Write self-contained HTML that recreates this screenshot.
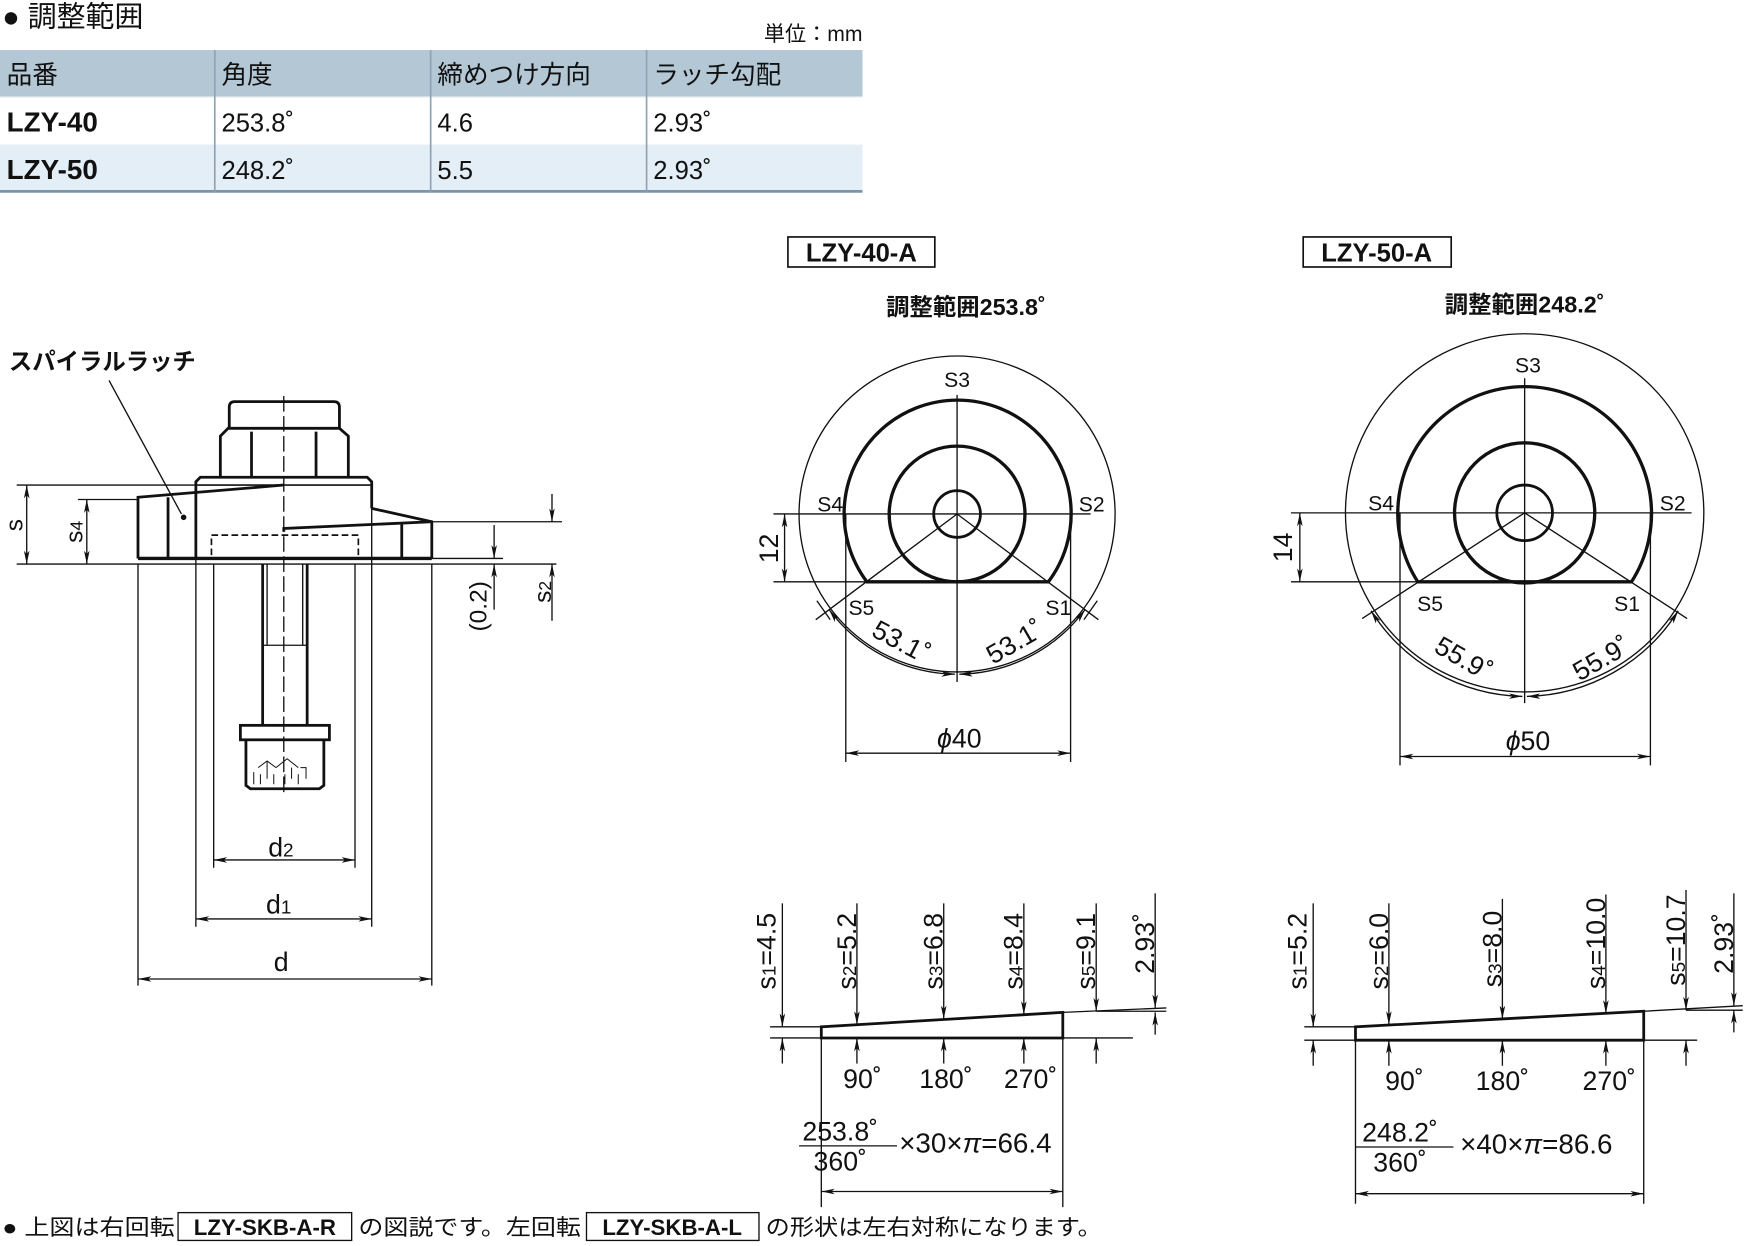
<!DOCTYPE html>
<html><head><meta charset="utf-8"><style>
html,body{margin:0;padding:0;background:#fff;}
svg{display:block;}
text{font-family:"Liberation Sans","Noto Sans CJK JP",sans-serif;fill:#111;}
</style></head><body>
<svg width="1745" height="1246" viewBox="0 0 1568 1120" preserveAspectRatio="none" xmlns="http://www.w3.org/2000/svg">
<defs>
<marker id="a" viewBox="0 0 12 6" refX="12" refY="3" markerWidth="12" markerHeight="6" orient="auto-start-reverse" markerUnits="userSpaceOnUse"><path d="M0,0.5 L12,3 L0,5.5 L3,3 z" fill="#111"/></marker>
</defs>

<!-- Table -->
<text x="2" y="24" font-size="26">● 調整範囲</text>
<text x="775" y="37" font-size="19" text-anchor="end">単位：mm</text>
<rect x="0" y="45" width="775" height="42" fill="#b3c7d5"/>
<rect x="0" y="130" width="775" height="42" fill="#e4eef6"/>
<line x1="0" y1="172" x2="775" y2="172" stroke="#7d93a6" stroke-width="2.5"/>
<line x1="0" y1="87" x2="775" y2="87" stroke="#dde5ec" stroke-width="1"/>
<g stroke="#8fa3b4" stroke-width="1.5">
<line x1="193" y1="45" x2="193" y2="172"/><line x1="387" y1="45" x2="387" y2="172"/><line x1="581" y1="45" x2="581" y2="172"/>
</g>
<g font-size="23">
<text x="6" y="75">品番</text><text x="199" y="75">角度</text><text x="393" y="75">締めつけ方向</text><text x="587" y="75">ラッチ勾配</text>
<text x="6" y="118" font-weight="bold" font-size="25">LZY-40</text><text x="199" y="118">253.8˚</text><text x="393" y="118">4.6</text><text x="587" y="118">2.93˚</text>
<text x="6" y="161" font-weight="bold" font-size="25">LZY-50</text><text x="199" y="161">248.2˚</text><text x="393" y="161">5.5</text><text x="587" y="161">2.93˚</text>
</g>

<!-- Left drawing -->
<g fill="none" stroke="#111">
<text x="8" y="332" font-size="21" font-weight="bold" stroke="none">スパイラルラッチ</text>
<line x1="98" y1="342" x2="163" y2="462" stroke-width="1.2"/>
<circle cx="165" cy="465" r="2" fill="#111"/>
<path d="M206,385 L206,366 Q206,361 211,361 L300,361 Q305,361 305,366 L305,385" stroke-width="2.5"/>
<path d="M198,429 L198,392 L205,385 L305,385 L313,392 L313,429" stroke-width="2.5"/>
<line x1="226" y1="388" x2="226" y2="429" stroke-width="2.5"/>
<line x1="284" y1="388" x2="284" y2="429" stroke-width="2.5"/>
<path d="M176,502 L176,433 L180,429 L330,429 L334,433 L334,457" stroke-width="2.5"/>
<line x1="176" y1="436" x2="334" y2="436" stroke-width="1.5"/>
<path d="M124,502 L124,447 L255,436" stroke-width="2.5"/>
<line x1="151" y1="447" x2="151" y2="502" stroke-width="2.5"/>
<path d="M334,457 L388,469 L388,502" stroke-width="2.5"/>
<path d="M255,478 L255,475 L388,469" stroke-width="2.5"/>
<line x1="361" y1="471" x2="361" y2="502" stroke-width="2.5"/>
<line x1="124" y1="502" x2="388" y2="502" stroke-width="3"/>
<line x1="388" y1="502" x2="452" y2="502" stroke-width="1.2"/>
<rect x="190" y="481" width="132" height="21" stroke-width="1.5" stroke-dasharray="6,3"/>
<path d="M236,507 L236,652 M276,507 L276,652" stroke-width="2.5"/>
<path d="M240,507 L240,580 M272,507 L272,580 M236,580 L276,580" stroke-width="1.2"/>
<rect x="216" y="652" width="80" height="13" stroke-width="2.5"/>
<path d="M221,665 L221,706 L225,709 L287,709 L291,706 L291,665" stroke-width="2.5"/>
<path d="M232,690 L240,684 L248,690 M240,684 L240,700 M248,690 L258,682 L268,690 M262,690 L262,700 M270,690 L275,690 L275,700 M228,694 L228,705 M234,696 L234,705 M246,696 L246,705 M256,696 L256,705 M268,696 L268,705" stroke-width="0.9"/>
<line x1="255" y1="356" x2="255" y2="716" stroke-width="1.2" stroke-dasharray="14,4"/>
<line x1="15" y1="507" x2="500" y2="507" stroke-width="1.2"/>
<line x1="15" y1="436" x2="176" y2="436" stroke-width="1.2"/>
<line x1="70" y1="449" x2="124" y2="449" stroke-width="1.2"/>
<line x1="388" y1="469" x2="505" y2="469" stroke-width="1.2"/>
<line x1="24" y1="436" x2="24" y2="507" stroke-width="1.2" marker-start="url(#a)" marker-end="url(#a)"/>
<line x1="78" y1="449" x2="78" y2="507" stroke-width="1.2" marker-start="url(#a)" marker-end="url(#a)"/>
<line x1="444" y1="472" x2="444" y2="502" stroke-width="1.2" marker-end="url(#a)"/>
<line x1="444" y1="548" x2="444" y2="507" stroke-width="1.2" marker-end="url(#a)"/>
<line x1="496" y1="444" x2="496" y2="469" stroke-width="1.2" marker-end="url(#a)"/>
<line x1="496" y1="558" x2="496" y2="507" stroke-width="1.2" marker-end="url(#a)"/>
<path d="M192,507 L192,780 M319,507 L319,780 M176,502 L176,833 M334,457 L334,833 M124,507 L124,886 M388,507 L388,886" stroke-width="1.2"/>
<line x1="192" y1="773" x2="319" y2="773" stroke-width="1.2" marker-start="url(#a)" marker-end="url(#a)"/>
<line x1="176" y1="826" x2="334" y2="826" stroke-width="1.2" marker-start="url(#a)" marker-end="url(#a)"/>
<line x1="124" y1="880" x2="388" y2="880" stroke-width="1.2" marker-start="url(#a)" marker-end="url(#a)"/>
</g>
<g font-size="24">
<text x="241" y="770">d<tspan font-size="17">2</tspan></text>
<text x="239" y="821">d<tspan font-size="17">1</tspan></text>
<text x="246" y="873">d</text>
<text transform="translate(20,472) rotate(-90)" text-anchor="middle" font-size="22">s</text>
<text transform="translate(74,478) rotate(-90)" text-anchor="middle" font-size="22">s<tspan font-size="16">4</tspan></text>
<text transform="translate(437,545) rotate(-90)" text-anchor="middle" font-size="22">(0.2)</text>
<text transform="translate(495,532) rotate(-90)" text-anchor="middle" font-size="22">s<tspan font-size="16">2</tspan></text>
</g>

<!-- LZY-40-A -->
<rect x="708" y="213" width="132" height="27" fill="none" stroke="#111" stroke-width="1.5"/>
<text x="774" y="235" font-size="23" font-weight="bold" text-anchor="middle">LZY-40-A</text>
<text x="868" y="283" font-size="21" font-weight="bold" text-anchor="middle">調整範囲253.8˚</text>
<g fill="none" stroke="#111">
<circle cx="860" cy="462" r="142" stroke-width="1.2"/>
<path d="M779,523 A102,102 0 1 1 942,523 Z" stroke-width="3"/>
<circle cx="860" cy="462" r="61" stroke-width="3"/>
<circle cx="860" cy="462" r="21" stroke-width="2.5"/>
<line x1="860" y1="355" x2="860" y2="613" stroke-width="1.2"/>
<line x1="695" y1="462" x2="980" y2="462" stroke-width="1.2"/>
<line x1="695" y1="523" x2="779" y2="523" stroke-width="1.2"/>
<line x1="705" y1="462" x2="705" y2="523" stroke-width="1.2" marker-start="url(#a)" marker-end="url(#a)"/>
<line x1="860" y1="462" x2="733" y2="557" stroke-width="1.2"/>
<line x1="860" y1="462" x2="987" y2="557" stroke-width="1.2"/>
<line x1="734" y1="540" x2="746" y2="557" stroke-width="1.2"/>
<line x1="986" y1="540" x2="974" y2="557" stroke-width="1.2"/>
<path d="M745,548 A144,144 0 0 0 858,606" stroke-width="1.2" marker-start="url(#a)" marker-end="url(#a)"/>
<path d="M975,548 A144,144 0 0 1 862,606" stroke-width="1.2" marker-start="url(#a)" marker-end="url(#a)"/>
<line x1="760" y1="462" x2="760" y2="685" stroke-width="1.2"/>
<line x1="962" y1="462" x2="962" y2="685" stroke-width="1.2"/>
<line x1="760" y1="677" x2="962" y2="677" stroke-width="1.2" marker-start="url(#a)" marker-end="url(#a)"/>
</g>
<g font-size="19">
<text x="860" y="348" text-anchor="middle">S3</text>
<text x="746" y="460" text-anchor="middle">S4</text>
<text x="981" y="460" text-anchor="middle">S2</text>
<text x="774" y="553" text-anchor="middle">S5</text>
<text x="951" y="553" text-anchor="middle">S1</text>
<text transform="translate(806,584) rotate(28)" text-anchor="middle" font-size="24">53.1˚</text>
<text transform="translate(916,584) rotate(-30)" text-anchor="middle" font-size="24">53.1˚</text>
<text transform="translate(699,493) rotate(-90)" text-anchor="middle" font-size="24">12</text>
<text x="862" y="672" text-anchor="middle" font-size="24"><tspan font-style="italic">ϕ</tspan>40</text>
</g>

<!-- LZY-50-A -->
<rect x="1171" y="213" width="133" height="27" fill="none" stroke="#111" stroke-width="1.5"/>
<text x="1237" y="235" font-size="23" font-weight="bold" text-anchor="middle">LZY-50-A</text>
<text x="1370" y="281" font-size="21" font-weight="bold" text-anchor="middle">調整範囲248.2˚</text>
<g fill="none" stroke="#111">
<circle cx="1370" cy="461" r="161" stroke-width="1.2"/>
<path d="M1274,523 A114,114 0 1 1 1466,523 Z" stroke-width="3"/>
<circle cx="1370" cy="461" r="63" stroke-width="3"/>
<circle cx="1370" cy="461" r="25" stroke-width="2.5"/>
<line x1="1370" y1="340" x2="1370" y2="632" stroke-width="1.2"/>
<line x1="1160" y1="461" x2="1520" y2="461" stroke-width="1.2"/>
<line x1="1160" y1="523" x2="1274" y2="523" stroke-width="1.2"/>
<line x1="1168" y1="461" x2="1168" y2="523" stroke-width="1.2" marker-start="url(#a)" marker-end="url(#a)"/>
<line x1="1370" y1="461" x2="1224" y2="556" stroke-width="1.2"/>
<line x1="1370" y1="461" x2="1516" y2="556" stroke-width="1.2"/>
<path d="M1232,549 A165,165 0 0 0 1368,626" stroke-width="1.2" marker-start="url(#a)" marker-end="url(#a)"/>
<path d="M1508,549 A165,165 0 0 1 1372,626" stroke-width="1.2" marker-start="url(#a)" marker-end="url(#a)"/>
<line x1="1258" y1="461" x2="1258" y2="688" stroke-width="1.2"/>
<line x1="1483" y1="461" x2="1483" y2="688" stroke-width="1.2"/>
<line x1="1258" y1="680" x2="1483" y2="680" stroke-width="1.2" marker-start="url(#a)" marker-end="url(#a)"/>
</g>
<g font-size="19">
<text x="1373" y="335" text-anchor="middle">S3</text>
<text x="1241" y="459" text-anchor="middle">S4</text>
<text x="1503" y="459" text-anchor="middle">S2</text>
<text x="1285" y="549" text-anchor="middle">S5</text>
<text x="1462" y="549" text-anchor="middle">S1</text>
<text transform="translate(1311,599) rotate(30)" text-anchor="middle" font-size="24">55.9˚</text>
<text transform="translate(1443,599) rotate(-30)" text-anchor="middle" font-size="24">55.9˚</text>
<text transform="translate(1161,492) rotate(-90)" text-anchor="middle" font-size="24">14</text>
<text x="1373" y="674" text-anchor="middle" font-size="24"><tspan font-style="italic">ϕ</tspan>50</text>
</g>

<!-- Ramp 40 -->
<g fill="none" stroke="#111">
<path d="M738,933 L738,923 L955,910 L955,933 Z" stroke-width="2.5"/>
<line x1="692" y1="933" x2="1018" y2="933" stroke-width="1.2"/>
<line x1="692" y1="923" x2="738" y2="923" stroke-width="1.2"/>
<line x1="955" y1="910" x2="1048" y2="906" stroke-width="1.2"/>
<line x1="985" y1="909" x2="1048" y2="909" stroke-width="1.2"/>
<g stroke-width="1.2">
<line x1="703" y1="812" x2="703" y2="923" marker-end="url(#a)"/><line x1="703" y1="956" x2="703" y2="933" marker-end="url(#a)"/>
<line x1="770" y1="812" x2="770" y2="921" marker-end="url(#a)"/><line x1="770" y1="956" x2="770" y2="933" marker-end="url(#a)"/>
<line x1="848" y1="812" x2="848" y2="916" marker-end="url(#a)"/><line x1="848" y1="956" x2="848" y2="933" marker-end="url(#a)"/>
<line x1="920" y1="812" x2="920" y2="912" marker-end="url(#a)"/><line x1="920" y1="956" x2="920" y2="933" marker-end="url(#a)"/>
<line x1="985" y1="812" x2="985" y2="909" marker-end="url(#a)"/><line x1="985" y1="956" x2="985" y2="933" marker-end="url(#a)"/>
<line x1="1038" y1="803" x2="1038" y2="906" marker-end="url(#a)"/><line x1="1038" y1="930" x2="1038" y2="910" marker-end="url(#a)"/>
<line x1="738" y1="933" x2="738" y2="1085"/><line x1="955" y1="933" x2="955" y2="1085"/>
<line x1="738" y1="1071" x2="955" y2="1071" marker-start="url(#a)" marker-end="url(#a)"/>
<line x1="718" y1="1030" x2="806" y2="1030"/>
</g>
</g>
<g font-size="24">
<text transform="translate(697,855) rotate(-90)" text-anchor="middle">s<tspan font-size="17">1</tspan>=4.5</text>
<text transform="translate(769,855) rotate(-90)" text-anchor="middle">s<tspan font-size="17">2</tspan>=5.2</text>
<text transform="translate(847,855) rotate(-90)" text-anchor="middle">s<tspan font-size="17">3</tspan>=6.8</text>
<text transform="translate(919,855) rotate(-90)" text-anchor="middle">s<tspan font-size="17">4</tspan>=8.4</text>
<text transform="translate(984,855) rotate(-90)" text-anchor="middle">s<tspan font-size="17">5</tspan>=9.1</text>
<text transform="translate(1037,848) rotate(-90)" text-anchor="middle">2.93˚</text>
<text x="775" y="978" text-anchor="middle">90˚</text>
<text x="850" y="978" text-anchor="middle">180˚</text>
<text x="926" y="978" text-anchor="middle">270˚</text>
<text x="755" y="1025" text-anchor="middle">253.8˚</text>
<text x="755" y="1052" text-anchor="middle">360˚</text>
<text x="808" y="1036" font-size="25">×30×<tspan font-style="italic">π</tspan>=66.4</text>
</g>

<!-- Ramp 50 -->
<g fill="none" stroke="#111">
<path d="M1218,935 L1218,923 L1477,909 L1477,935 Z" stroke-width="2.5"/>
<line x1="1172" y1="935" x2="1525" y2="935" stroke-width="1.2"/>
<line x1="1172" y1="923" x2="1218" y2="923" stroke-width="1.2"/>
<line x1="1477" y1="909" x2="1566" y2="904" stroke-width="1.2"/>
<line x1="1515" y1="908" x2="1566" y2="908" stroke-width="1.2"/>
<g stroke-width="1.2">
<line x1="1180" y1="812" x2="1180" y2="923" marker-end="url(#a)"/><line x1="1180" y1="958" x2="1180" y2="935" marker-end="url(#a)"/>
<line x1="1248" y1="812" x2="1248" y2="921" marker-end="url(#a)"/><line x1="1248" y1="958" x2="1248" y2="935" marker-end="url(#a)"/>
<line x1="1350" y1="808" x2="1350" y2="916" marker-end="url(#a)"/><line x1="1350" y1="958" x2="1350" y2="935" marker-end="url(#a)"/>
<line x1="1443" y1="804" x2="1443" y2="911" marker-end="url(#a)"/><line x1="1443" y1="958" x2="1443" y2="935" marker-end="url(#a)"/>
<line x1="1515" y1="800" x2="1515" y2="908" marker-end="url(#a)"/><line x1="1515" y1="958" x2="1515" y2="935" marker-end="url(#a)"/>
<line x1="1558" y1="803" x2="1558" y2="904" marker-end="url(#a)"/><line x1="1558" y1="928" x2="1558" y2="908" marker-end="url(#a)"/>
<line x1="1218" y1="935" x2="1218" y2="1082"/><line x1="1477" y1="935" x2="1477" y2="1082"/>
<line x1="1218" y1="1073" x2="1477" y2="1073" marker-start="url(#a)" marker-end="url(#a)"/>
<line x1="1218" y1="1031" x2="1306" y2="1031"/>
</g>
</g>
<g font-size="24">
<text transform="translate(1174,855) rotate(-90)" text-anchor="middle">s<tspan font-size="17">1</tspan>=5.2</text>
<text transform="translate(1247,855) rotate(-90)" text-anchor="middle">s<tspan font-size="17">2</tspan>=6.0</text>
<text transform="translate(1349,853) rotate(-90)" text-anchor="middle">s<tspan font-size="17">3</tspan>=8.0</text>
<text transform="translate(1442,848) rotate(-90)" text-anchor="middle">s<tspan font-size="17">4</tspan>=10.0</text>
<text transform="translate(1514,845) rotate(-90)" text-anchor="middle">s<tspan font-size="17">5</tspan>=10.7</text>
<text transform="translate(1557,848) rotate(-90)" text-anchor="middle">2.93˚</text>
<text x="1262" y="980" text-anchor="middle">90˚</text>
<text x="1350" y="980" text-anchor="middle">180˚</text>
<text x="1446" y="980" text-anchor="middle">270˚</text>
<text x="1258" y="1026" text-anchor="middle">248.2˚</text>
<text x="1258" y="1053" text-anchor="middle">360˚</text>
<text x="1312" y="1037" font-size="25">×40×<tspan font-style="italic">π</tspan>=86.6</text>
</g>

<!-- Footer -->
<g font-size="20">
<text x="2" y="1110" textLength="155" lengthAdjust="spacingAndGlyphs">● 上図は右回転</text>
<rect x="160" y="1090" width="156" height="25" fill="none" stroke="#111" stroke-width="1.2"/>
<text x="238" y="1110" text-anchor="middle" font-weight="bold">LZY-SKB-A-R</text>
<text x="322" y="1110" textLength="200" lengthAdjust="spacingAndGlyphs">の図説です。左回転</text>
<rect x="527" y="1090" width="155" height="25" fill="none" stroke="#111" stroke-width="1.2"/>
<text x="604" y="1110" text-anchor="middle" font-weight="bold">LZY-SKB-A-L</text>
<text x="688" y="1110" textLength="302" lengthAdjust="spacingAndGlyphs">の形状は左右対称になります。</text>
</g>
</svg>
</body></html>
